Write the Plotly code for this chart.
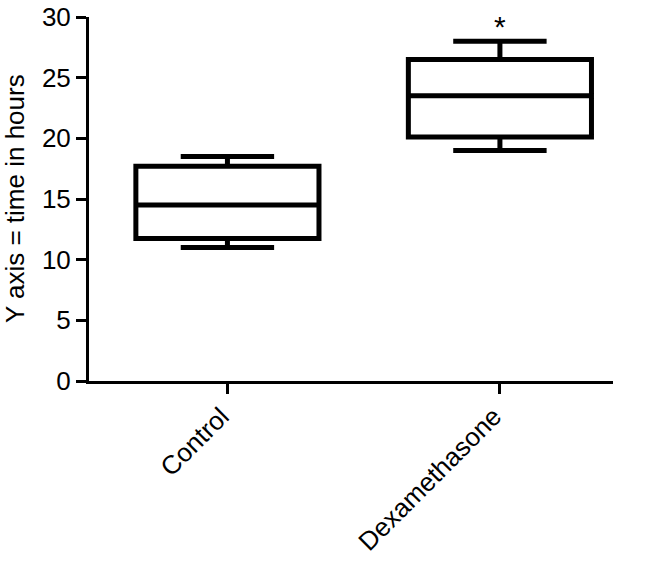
import plotly.graph_objects as go

categories = ["Control", "Dexamethasone"]
lower_whisker = [11.0, 19.0]
q1_values = [11.75, 20.1]
median_values = [14.5, 23.5]
q3_values = [17.7, 26.5]
upper_whisker = [18.5, 28.0]
y_ticks = [0, 5, 10, 15, 20, 25, 30]
significance_label = "*"
significance_y = 29.2

FONT = "Liberation Sans, Arial, sans-serif"

fig = go.Figure()
fig.add_trace(go.Box(
    x=categories,
    q1=q1_values,
    median=median_values,
    q3=q3_values,
    lowerfence=lower_whisker,
    upperfence=upper_whisker,
    width=0.672,
    whiskerwidth=0.51,
    boxpoints=False,
    fillcolor="white",
    line=dict(color="black", width=5),
    showlegend=False,
    hoverinfo="skip",
))

fig.add_annotation(
    x=categories[1], y=significance_y, text=significance_label,
    showarrow=False, font=dict(family=FONT, size=30, color="black"),
    xref="x", yref="y",
)

fig.add_annotation(
    x=-0.141, y=0.5, xref="paper", yref="paper",
    xanchor="center", yanchor="middle",
    text="Y axis = time in hours", textangle=-90, showarrow=False,
    font=dict(family=FONT, size=26, color="black"),
)

fig.update_layout(
    width=647, height=567,
    margin=dict(l=89, r=34, t=17, b=186),
    paper_bgcolor="white", plot_bgcolor="white",
    font=dict(family=FONT, size=26, color="black"),
    xaxis=dict(
        type="category",
        range=[-0.508, 1.415],
        automargin=False,
        showline=True, linecolor="black", linewidth=3,
        ticks="outside", ticklen=10, tickwidth=3, tickcolor="black",
        tickangle=-45, showgrid=False, zeroline=False,
        ticklabeloverflow="allow",
        ticklabelshift=-6, ticklabelstandoff=-3,
        tickfont=dict(family=FONT, size=26, color="black"),
    ),
    yaxis=dict(
        range=[0, 30], tickvals=y_ticks,
        automargin=False,
        showline=True, linecolor="black", linewidth=3,
        ticks="outside", ticklen=10, tickwidth=3, tickcolor="black",
        showgrid=False, zeroline=False,
        ticklabeloverflow="allow",
        tickfont=dict(family=FONT, size=26, color="black"),
    ),
)

# remove the default 8px page margin so the figure fills the window exactly
fig.write_html(
    "out.html",
    config={"displayModeBar": False, "staticPlot": True},
    post_script="document.body.style.margin='0';",
)
